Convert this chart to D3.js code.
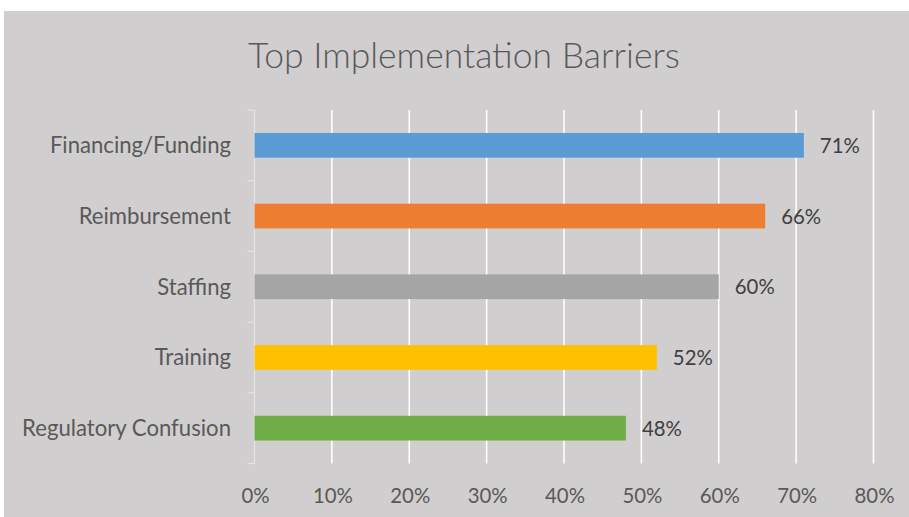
<!DOCTYPE html>
<html>
<head>
<meta charset="utf-8">
<script src="https://cdn.jsdelivr.net/npm/d3@7"></script>
<style>
  html, body { margin: 0; padding: 0; background: #ffffff; }
  svg { display: block; }
  text { font-family: Lato, "Open Sans", sans-serif; }
</style>
</head>
<body>
<svg id="chart" width="909" height="517"></svg>
<script>
// ---- data ----
const title = "Top Implementation Barriers";
const categories = ["Financing/Funding", "Reimbursement", "Staffing", "Training", "Regulatory Confusion"];
const values = [0.71, 0.66, 0.60, 0.52, 0.48];
const colors = ["#5B9BD5", "#ED7D31", "#A5A5A5", "#FFC000", "#70AD47"];
const tickValues = [0, 0.1, 0.2, 0.3, 0.4, 0.5, 0.6, 0.7, 0.8];

// ---- layout ----
const W = 909, H = 517;
const svg = d3.select("#chart");

svg.append("rect").attr("x", 4).attr("y", 11).attr("width", W - 4).attr("height", H - 11)
  .attr("fill", "#D0CECE");

const x = d3.scaleLinear().domain([0, 0.8]).range([254.5, 873.5]);
const y = d3.scaleBand().domain(categories).range([110, 463.5]).paddingInner(0.65).paddingOuter(0.325);

// fit text to a target width
function fit(sel, target) {
  sel.each(function () {
    const t = d3.select(this);
    const fs = parseFloat(t.attr("font-size"));
    const w = this.getComputedTextLength();
    if (w > 0) t.attr("font-size", (fs * target / w).toFixed(2));
  });
}

// gridlines
svg.append("g").selectAll("line").data(tickValues.filter(d => d > 0)).join("line")
  .attr("x1", d => x(d)).attr("x2", d => x(d))
  .attr("y1", 110).attr("y2", 463.5)
  .attr("stroke", "#FFFFFF").attr("stroke-width", 1.6);

// y axis (category) line with outer ticks at band boundaries
const yAxisG = svg.append("g");
yAxisG.append("line").attr("x1", x(0)).attr("x2", x(0)).attr("y1", 110).attr("y2", 463.5)
  .attr("stroke", "#E4E3E3").attr("stroke-width", 1.2);
const step = y.step();
const bounds = d3.range(categories.length + 1).map(i => 110 + i * step);
yAxisG.selectAll("line.tk").data(bounds).join("line").attr("class", "tk")
  .attr("x1", x(0) - 7).attr("x2", x(0)).attr("y1", d => d).attr("y2", d => d)
  .attr("stroke", "#E4E3E3").attr("stroke-width", 1.2);

// bars
svg.append("g").selectAll("rect").data(categories).join("rect")
  .attr("x", x(0)).attr("y", d => y(d))
  .attr("width", (d, i) => x(values[i]) - x(0))
  .attr("height", y.bandwidth())
  .attr("fill", (d, i) => colors[i]);

// category labels
const catLabels = svg.append("g").selectAll("text").data(categories).join("text")
  .attr("x", 231).attr("y", d => y(d) + y.bandwidth() / 2)
  .attr("dy", "0.36em").attr("text-anchor", "end")
  .attr("font-size", 20).attr("fill", "#595959")
  .text(d => d);
// fit the longest label's width, apply the same size to all
{
  const node = catLabels.filter(d => d === "Regulatory Confusion").node();
  const w = node.getComputedTextLength();
  const fs = 20 * 209 / w;
  catLabels.attr("font-size", fs.toFixed(2));
}

// value labels
const valLabels = svg.append("g").selectAll("text").data(categories).join("text")
  .attr("x", (d, i) => x(values[i]) + 16)
  .attr("y", d => y(d) + y.bandwidth() / 2)
  .attr("dy", "0.38em")
  .attr("font-size", 20).attr("fill", "#404040")
  .text((d, i) => Math.round(values[i] * 100) + "%");
{
  const w = valLabels.node().getComputedTextLength();
  valLabels.attr("font-size", (20 * 40 / w).toFixed(2));
}

// x tick labels
const tickLabels = svg.append("g").selectAll("text").data(tickValues).join("text")
  .attr("x", d => x(d) + 1).attr("y", 502.5)
  .attr("text-anchor", "middle")
  .attr("font-size", 20).attr("fill", "#595959")
  .text(d3.format(".0%"));
{
  const w = tickLabels.filter(d => d === 0.8).node().getComputedTextLength();
  tickLabels.attr("font-size", (20 * 40 / w).toFixed(2));
}

// title
const titleT = svg.append("text").attr("x", (248 + 680) / 2).attr("y", 67.5)
  .attr("text-anchor", "middle").attr("font-size", 34).attr("font-weight", 300)
  .attr("fill", "#595959").text(title);
fit(titleT, 432);
</script>
</body>
</html>
